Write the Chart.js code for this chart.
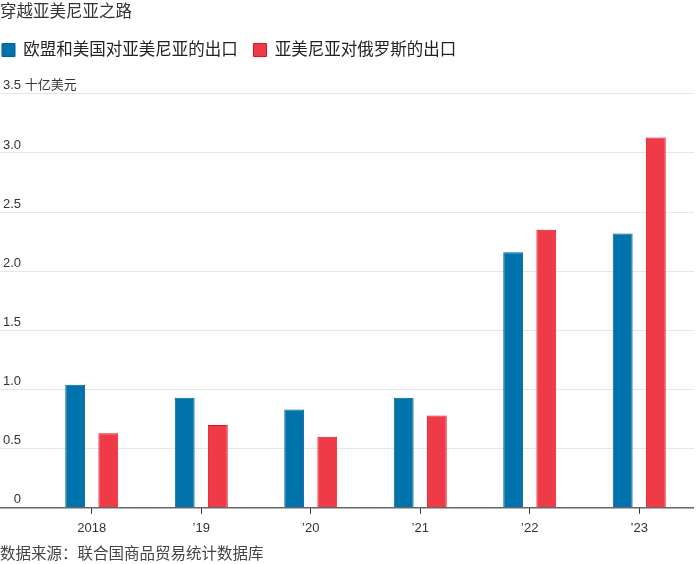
<!DOCTYPE html>
<html>
<head>
<meta charset="utf-8">
<script src="https://cdn.jsdelivr.net/npm/chart.js@4/dist/chart.umd.min.js"></script>
<style>
  html, body { margin: 0; padding: 0; background: #fff; }
  #wrap { width: 700px; height: 564px; position: relative; }
</style>
</head>
<body>
<div id="wrap"><canvas id="c"></canvas></div>
<script>
const categories = ['2018', '\u201919', '\u201920', '\u201921', '\u201922', '\u201923'];
const euUsExports = [1.04, 0.93, 0.83, 0.93, 2.16, 2.32];
const armeniaToRussia = [0.63, 0.70, 0.60, 0.78, 2.35, 3.13];
const yTicks = [0, 0.5, 1.0, 1.5, 2.0, 2.5, 3.0, 3.5];
const seriesNames = ['欧盟和美国对亚美尼亚的出口', '亚美尼亚对俄罗斯的出口'];
const titleText = '穿越亚美尼亚之路';
const unitText = '十亿美元';
const sourceText = '数据来源：联合国商品贸易统计数据库';

const FONT = 'Liberation Sans, "Noto Sans CJK SC", sans-serif';

// adds empty space below the legend row (before the plot area)
const legendSpacer = {
  id: 'legendSpacer',
  beforeLayout(chart) {
    const lg = chart.legend;
    if (lg && !lg._spaced) {
      const fit = lg.fit;
      lg.fit = function () { fit.call(this); this.height += 25.5; };
      lg._spaced = true;
    }
  }
};

new Chart(document.getElementById('c'), {
  type: 'bar',
  plugins: [legendSpacer],
  data: {
    labels: categories,
    datasets: [
      {
        label: seriesNames[0],
        data: euUsExports,
        backgroundColor: '#0073ad',
        borderColor: '#005f92',
        borderWidth: 1,
        categoryPercentage: 0.605,
        barPercentage: 0.6
      },
      {
        label: seriesNames[1],
        data: armeniaToRussia,
        backgroundColor: '#ef3a47',
        borderColor: '#e3121f',
        borderWidth: 1,
        categoryPercentage: 0.605,
        barPercentage: 0.6
      }
    ]
  },
  options: {
    responsive: true,
    maintainAspectRatio: false,
    animation: false,
    devicePixelRatio: 1,
    layout: { padding: { left: 0, right: 6, top: 0, bottom: 0 } },
    plugins: {
      tooltip: { enabled: false },
      title: {
        display: true,
        text: titleText,
        align: 'start',
        color: '#333',
        font: { family: FONT, size: 16.5, weight: 'normal' },
        padding: { top: 3, bottom: 17 }
      },
      legend: {
        display: true,
        position: 'top',
        align: 'start',
        labels: {
          color: '#222',
          font: { family: FONT, size: 16.5 },
          boxWidth: 13,
          boxHeight: 13,
          padding: 2,
          generateLabels: (chart) => {
            const items = Chart.defaults.plugins.legend.labels.generateLabels(chart);
            return items.map((it, i) => (i < items.length - 1 ? Object.assign({}, it, { text: it.text + '   ' }) : it));
          }
        }
      },
      subtitle: {
        display: true,
        position: 'bottom',
        align: 'start',
        text: sourceText,
        color: '#444',
        font: { family: FONT, size: 15.5 },
        padding: { top: 2, bottom: 0 }
      }
    },
    scales: {
      x: {
        type: 'category',
        offset: true,
        grid: {
          display: true,
          offset: false,
          drawOnChartArea: false,
          drawTicks: true,
          tickLength: 6,
          color: '#333'
        },
        border: { display: false },
        ticks: {
          color: '#333',
          font: { family: FONT, size: 13 },
          padding: 7,
          maxRotation: 0
        }
      },
      y: {
        type: 'linear',
        position: 'left',
        min: 0,
        max: 3.5,
        afterBuildTicks: (scale) => { scale.ticks = yTicks.map(v => ({ value: v })); },
        afterFit: (scale) => { scale.width = 37; },
        grid: {
          display: true,
          drawTicks: true,
          tickLength: 37,
          color: (ctx) => (ctx.tick && ctx.tick.value === 0 ? '#666' : '#e6e6e6'),
          lineWidth: (ctx) => (ctx.tick && ctx.tick.value === 0 ? 1.5 : 1)
        },
        border: { display: false },
        ticks: {
          mirror: true,
          padding: -34,
          labelOffset: -8,
          color: '#333',
          font: { family: FONT, size: 13 },
          callback: (v) => {
            if (v === 3.5) return '3.5 ' + unitText;
            if (v === 0) return '   0';
            return Number(v).toFixed(1);
          }
        }
      }
    }
  }
});
</script>
</body>
</html>
